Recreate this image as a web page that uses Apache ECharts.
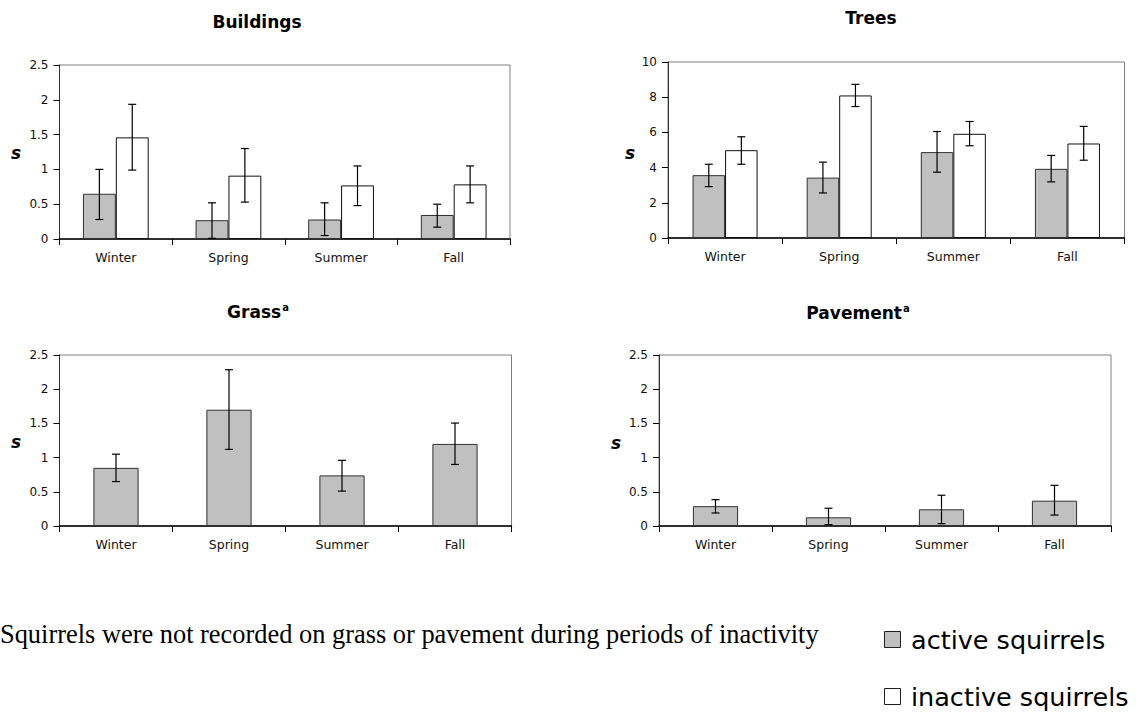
<!DOCTYPE html>
<html>
<head>
<meta charset="utf-8">
<script src="https://cdn.jsdelivr.net/npm/echarts@6/dist/echarts.min.js"></script>
<style>
html,body{margin:0;padding:0;background:#fff;}
#chart{width:1136px;height:712px;}
</style>
</head>
<body>
<div id="chart"></div>
<script>
// ---- data ----
var categories = ['Winter', 'Spring', 'Summer', 'Fall'];

var buildingsActive     = [0.65, 0.27, 0.28, 0.345];
var buildingsActiveHi   = [1.00, 0.52, 0.52, 0.50];
var buildingsActiveLo   = [0.28, 0.01, 0.05, 0.17];
var buildingsInactive   = [1.46, 0.91, 0.77, 0.785];
var buildingsInactiveHi = [1.935, 1.30, 1.05, 1.05];
var buildingsInactiveLo = [0.99, 0.53, 0.48, 0.52];

var treesActive     = [3.57, 3.43, 4.88, 3.93];
var treesActiveHi   = [4.19, 4.31, 6.05, 4.69];
var treesActiveLo   = [2.92, 2.56, 3.74, 3.19];
var treesInactive   = [4.99, 8.10, 5.92, 5.37];
var treesInactiveHi = [5.75, 8.73, 6.62, 6.34];
var treesInactiveLo = [4.19, 7.47, 5.24, 4.42];

var grassActive   = [0.85, 1.70, 0.74, 1.20];
var grassActiveHi = [1.05, 2.285, 0.96, 1.505];
var grassActiveLo = [0.65, 1.12, 0.51, 0.90];

var pavementActive   = [0.29, 0.127, 0.244, 0.37];
var pavementActiveHi = [0.385, 0.26, 0.45, 0.595];
var pavementActiveLo = [0.19, 0.02, 0.034, 0.16];

var smallTicks = { max: 2.5, interval: 0.5 };
var treeTicks = { max: 10, interval: 2 };

var panelTitles = ['Buildings', 'Trees', 'Grass', 'Pavement'];
var seriesNames = ['active squirrels', 'inactive squirrels'];
var footnote = 'Squirrels were not recorded on grass or pavement during periods of inactivity';

// ---- layout ----
var grids = [
  { left: 59.5, top: 65, width: 450.5, height: 174 },
  { left: 668, top: 62, width: 456.5, height: 176 },
  { left: 59.5, top: 355, width: 452, height: 171 },
  { left: 659, top: 355, width: 452, height: 171 }
];
var FONT = '"DejaVu Sans", "Liberation Sans", Arial, sans-serif';
var activeStyle = { color: '#c0c0c0', borderColor: '#303030', borderWidth: 1 };
var inactiveStyle = { color: '#ffffff', borderColor: '#101010', borderWidth: 1 };

function xAxisFor(i) {
  return {
    type: 'category', gridIndex: i, data: categories,
    axisLine: { lineStyle: { color: '#000', width: 1.5 } },
    axisTick: { show: true, length: 6, lineStyle: { color: '#000' } },
    axisLabel: { color: '#111', fontFamily: FONT, fontSize: 12.5, margin: 12 },
    splitLine: { show: false }
  };
}
function yAxisFor(i, t) {
  return {
    type: 'value', gridIndex: i, min: 0, max: t.max, interval: t.interval,
    axisLine: { show: true, lineStyle: { color: '#303030', width: 1 } },
    axisTick: { show: true, length: 6, lineStyle: { color: '#000' } },
    axisLabel: { color: '#111', fontFamily: FONT, fontSize: 12, margin: 11 },
    splitLine: { show: false }
  };
}

function barSeries(name, data, gi, style, gap) {
  return {
    type: 'bar', name: name, xAxisIndex: gi, yAxisIndex: gi, data: data,
    itemStyle: style, barGap: '0%', barCategoryGap: gap,
    silent: true, animation: false, z: 2
  };
}
function errSeries(hi, lo, gi, slot, nSlots, gapFrac) {
  var d = hi.map(function (h, k) { return [k, h, lo[k]]; });
  return {
    type: 'custom', xAxisIndex: gi, yAxisIndex: gi, data: d, z: 5,
    silent: true, animation: false,
    encode: { x: 0, y: [1, 2] },
    renderItem: function (params, api) {
      var band = api.size([1, 0])[0];
      var total = band * (1 - gapFrac);
      var bw = total / nSlots;
      var off = -total / 2 + bw * (slot + 0.5);
      var pHi = api.coord([api.value(0), api.value(1)]);
      var pLo = api.coord([api.value(0), api.value(2)]);
      var x = pHi[0] + off, c = 4;
      var st = { stroke: '#000', lineWidth: 1.2 };
      return {
        type: 'group', children: [
          { type: 'line', shape: { x1: x, y1: pHi[1], x2: x, y2: pLo[1] }, style: st },
          { type: 'line', shape: { x1: x - c, y1: pHi[1], x2: x + c, y2: pHi[1] }, style: st },
          { type: 'line', shape: { x1: x - c, y1: pLo[1], x2: x + c, y2: pLo[1] }, style: st }
        ]
      };
    }
  };
}

var series = [
  barSeries(seriesNames[0], buildingsActive, 0, activeStyle, '41.6%'),
  barSeries(seriesNames[1], buildingsInactive, 0, inactiveStyle, '41.6%'),
  errSeries(buildingsActiveHi, buildingsActiveLo, 0, 0, 2, 0.416),
  errSeries(buildingsInactiveHi, buildingsInactiveLo, 0, 1, 2, 0.416),
  barSeries(seriesNames[0], treesActive, 1, activeStyle, '43%'),
  barSeries(seriesNames[1], treesInactive, 1, inactiveStyle, '43%'),
  errSeries(treesActiveHi, treesActiveLo, 1, 0, 2, 0.43),
  errSeries(treesInactiveHi, treesInactiveLo, 1, 1, 2, 0.43),
  barSeries(seriesNames[0], grassActive, 2, activeStyle, '60%'),
  errSeries(grassActiveHi, grassActiveLo, 2, 0, 1, 0.60),
  barSeries(seriesNames[0], pavementActive, 3, activeStyle, '60%'),
  errSeries(pavementActiveHi, pavementActiveLo, 3, 0, 1, 0.60)
];

var titleRich = {
  t: { fontFamily: FONT, fontSize: 17, fontWeight: 'bold', color: '#000' },
  sup: { fontFamily: FONT, fontSize: 10, fontWeight: 'bold', color: '#000', verticalAlign: 'top', padding: [0, 0, 9, 1] }
};
var titlePos = [[257, 22], [871, 18], [258, 312], [858, 313]];
var sPos = [[16, 153], [630, 153], [16, 442], [616, 443]];

var graphics = [];
panelTitles.forEach(function (t, i) {
  var txt = i >= 2 ? '{t|' + t + '}{sup|a}' : '{t|' + t + '}';
  graphics.push({
    type: 'text', x: titlePos[i][0], y: titlePos[i][1], silent: true,
    style: { text: txt, rich: titleRich, align: 'center', verticalAlign: 'middle' }
  });
  graphics.push({
    type: 'text', x: sPos[i][0], y: sPos[i][1], silent: true,
    style: { text: 's', font: 'italic bold 17px ' + FONT, fill: '#000', align: 'center', verticalAlign: 'middle' }
  });
});
graphics.push({
  type: 'text', x: 0, y: 634, silent: true,
  style: { text: footnote, font: '26.4px "Liberation Serif", "Times New Roman", serif', fill: '#000', align: 'left', verticalAlign: 'middle' }
});
// legend (drawn with graphic so the two rows stack like the reference)
var legendRows = [
  { name: seriesNames[0], style: activeStyle, y: 631 },
  { name: seriesNames[1], style: inactiveStyle, y: 688 }
];
legendRows.forEach(function (r) {
  graphics.push({
    type: 'rect', x: 884.5, y: r.y + 0.5, silent: true,
    shape: { width: 16, height: 16 },
    style: { fill: r.style.color, stroke: '#202020', lineWidth: 1 }
  });
  graphics.push({
    type: 'text', x: 911, y: r.y + 8.5, silent: true,
    style: { text: r.name, font: '25.5px ' + FONT, fill: '#000', align: 'left', verticalAlign: 'middle' }
  });
});

var chart = echarts.init(document.getElementById('chart'), null, { renderer: 'svg' });
chart.setOption({
  animation: false,
  backgroundColor: '#fff',
  grid: grids.map(function (g) {
    return { left: g.left, top: g.top, width: g.width, height: g.height, show: true, borderColor: '#808080', borderWidth: 1, backgroundColor: 'transparent', containLabel: false };
  }),
  xAxis: [0, 1, 2, 3].map(xAxisFor),
  yAxis: [yAxisFor(0, smallTicks), yAxisFor(1, treeTicks), yAxisFor(2, smallTicks), yAxisFor(3, smallTicks)],
  graphic: graphics,
  series: series
});
</script>
</body>
</html>
